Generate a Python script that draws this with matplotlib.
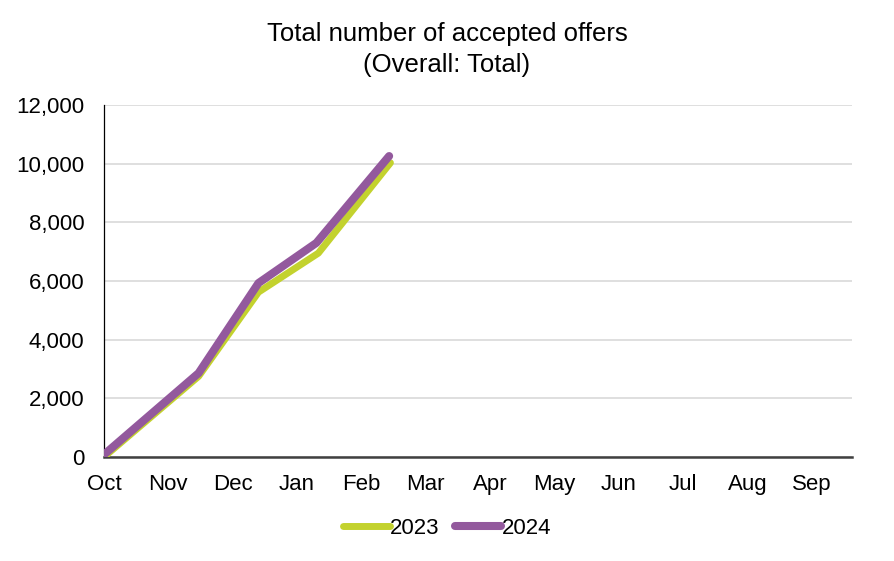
import matplotlib
matplotlib.use("Agg")
import matplotlib.pyplot as plt
from matplotlib.ticker import FuncFormatter

plt.rcParams['font.family'] = ['Liberation Sans', 'DejaVu Sans']

months = ["Oct", "Nov", "Dec", "Jan", "Feb", "Mar", "Apr", "May", "Jun", "Jul", "Aug", "Sep"]
# position in months since 1 Oct
x_2023 = [0.0, 1.47, 2.40, 3.33, 4.45]
y_2023 = [0, 2750, 5620, 6950, 10030]
x_2024 = [0.0, 1.47, 2.40, 3.30, 4.43]
y_2024 = [80, 2860, 5930, 7300, 10260]
series_labels = ["2023", "2024"]
title = "Total number of accepted offers\n(Overall: Total)"

fig = plt.figure(figsize=(8.94, 5.61), dpi=100)
ax = fig.add_axes([0.1163, 0.1854, 0.8367, 0.6274])

green = "#C3D22E"
purple = "#93599D"
ax.plot(x_2023, y_2023, color=green, lw=5.0, solid_capstyle='round', solid_joinstyle='round', label=series_labels[0], zorder=3)
ax.plot(x_2024, y_2024, color=purple, lw=5.8, solid_capstyle='round', solid_joinstyle='round', label=series_labels[1], zorder=4)

ax.set_xlim(0, 11.62)
ax.set_ylim(0, 12000)
ax.set_yticks(range(0, 12001, 2000))
ax.yaxis.set_major_formatter(FuncFormatter(lambda v, p: f"{int(v):,}"))
ax.set_xticks(range(len(months)))
ax.set_xticklabels(months)
ax.tick_params(axis='both', length=0, labelsize=16, colors='black')
ax.tick_params(axis='x', pad=12)
ax.tick_params(axis='y', pad=14)

ax.grid(axis='y', color='#D9D9D9', lw=1.2)
ax.set_axisbelow(True)
for s in ['top', 'right']:
    ax.spines[s].set_visible(False)
ax.spines['left'].set_color('black')
ax.spines['left'].set_linewidth(0.9)
ax.spines['bottom'].set_color('#404040')
ax.spines['bottom'].set_linewidth(1.8)

fig.text(0.5, 0.96, title, ha='center', va='top', fontsize=18.5, linespacing=1.33)

leg = fig.legend(loc='center', bbox_to_anchor=(0.5, 0.058), ncol=2, frameon=False,
                 fontsize=16, handlelength=2.1, handletextpad=0.0, columnspacing=0.7)

fig.savefig("out.png", dpi=100, facecolor='white')
